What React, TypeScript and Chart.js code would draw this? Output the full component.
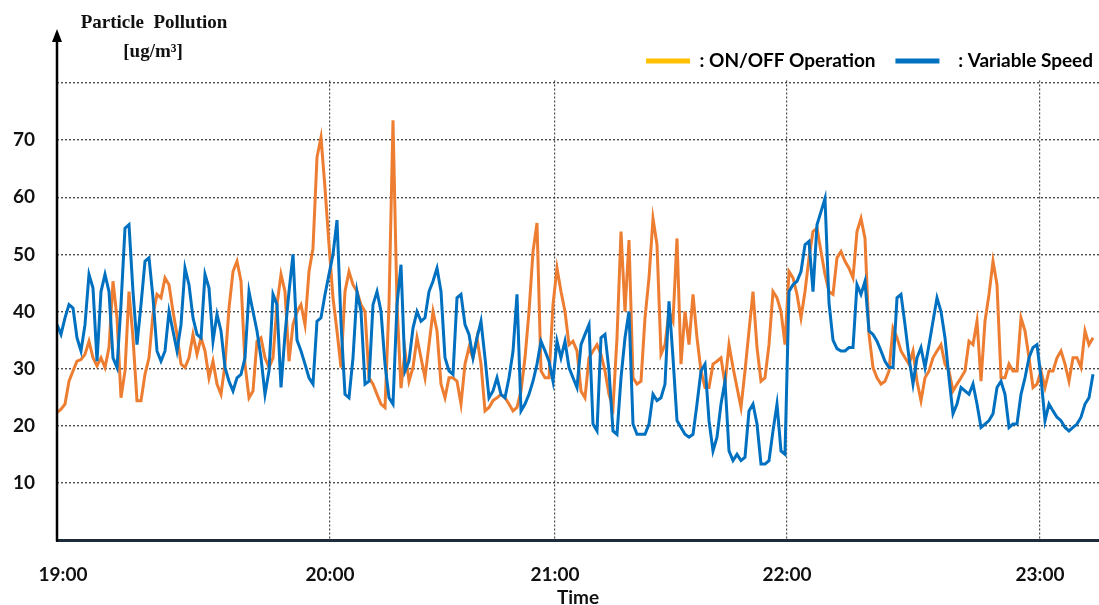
import { useEffect, useRef } from 'react';
import { Chart, registerables } from 'chart.js';

Chart.register(...registerables);

// Time axis: samples are evenly spaced; hour marks fall at these sample positions
const HOUR_LABELS = ['19:00', '20:00', '21:00', '22:00', '23:00'];
const HOUR_INDEX = [1.5, 68.25, 124.5, 182.5, 245.75];

const Y_TICKS = [0, 10, 20, 30, 40, 50, 60, 70, 80];

const SERIES_NAMES = [': ON/OFF Operation   ', '  : Variable Speed'];

// Particle pollution [ug/m3], ON/OFF operation
const ON_OFF = [
  22.3, 22.9, 23.8, 27.8, 29.6, 31.3, 31.6, 32.5, 34.8, 31.9,
  30.5, 31.9, 30.2, 33.7, 45.3, 38.9, 24.9, 29.6, 43.5, 35.4,
  24.4, 24.4, 29.0, 31.9, 39.5, 43.0, 42.4, 45.9, 44.7, 40.0,
  36.0, 30.8, 30.2, 31.9, 36.0, 32.5, 35.4, 33.1, 28.4, 31.3,
  27.3, 25.5, 30.8, 40.6, 47.0, 48.8, 45.3, 30.8, 24.9, 26.1,
  34.8, 35.4, 31.9, 30.2, 31.9, 41.2, 46.5, 43.5, 31.3, 37.7,
  40.0, 41.2, 37.7, 47.0, 51.1, 67.0, 70.5, 61.6, 51.7, 42.4,
  36.6, 30.2, 43.5, 47.0, 44.7, 43.5, 41.2, 40.0, 28.4, 27.3,
  25.5, 23.8, 23.2, 41.2, 73.5, 41.2, 26.6, 33.1, 27.8, 30.2,
  35.4, 31.9, 28.4, 34.2, 40.0, 36.6, 27.3, 24.9, 28.4, 28.4,
  27.8, 23.8, 30.8, 33.7, 31.9, 35.4, 30.8, 22.6, 23.2, 24.4,
  24.9, 25.5, 24.9, 23.8, 22.6, 23.2, 26.1, 31.9, 40.0, 50.5,
  55.5, 29.6, 28.4, 28.4, 41.2, 47.6, 43.5, 40.0, 34.2, 34.8,
  33.1, 26.1, 24.9, 31.9, 33.1, 34.2, 32.5, 29.6, 25.5, 23.2,
  35.4, 54.0, 40.0, 52.5, 28.4, 27.3, 27.8, 38.9, 45.9, 56.3,
  51.7, 32.5, 34.2, 40.0, 38.3, 52.8, 30.8, 40.0, 34.2, 43.0,
  35.4, 29.6, 26.7, 26.7, 30.8, 31.3, 31.9, 27.3, 34.2, 30.2,
  26.7, 23.2, 29.6, 36.6, 43.5, 33.7, 27.8, 28.4, 34.2, 43.5,
  42.4, 40.0, 34.2, 47.0, 45.9, 43.0, 38.9, 43.5, 49.4, 54.0,
  54.6, 50.5, 46.5, 43.5, 43.0, 49.4, 50.5, 48.8, 47.6, 45.9,
  54.0, 56.3, 52.8, 36.0, 30.2, 28.4, 27.3, 27.8, 29.6, 37.1,
  35.4, 33.1, 31.9, 30.8, 33.1, 27.8, 24.4, 28.4, 29.6, 31.9,
  33.1, 34.2, 30.8, 29.6, 26.1, 27.3, 28.4, 29.6, 34.8, 34.2,
  38.3, 27.8, 38.3, 43.0, 48.8, 44.7, 28.4, 28.4, 30.8, 29.6,
  29.6, 38.9, 36.6, 31.9, 26.7, 27.3, 29.6, 26.7, 29.6, 29.6,
  31.9, 33.1, 30.8, 27.8, 31.9, 31.9, 30.2, 36.6, 34.2, 35.4,
];

// Particle pollution [ug/m3], variable speed
const VARIABLE = [
  37.7, 36.0, 38.9, 41.2, 40.6, 35.4, 33.1, 37.7, 46.5, 44.1,
  31.3, 43.5, 46.5, 43.5, 31.9, 30.2, 41.2, 54.6, 55.2, 43.5,
  34.2, 41.2, 48.8, 49.4, 42.4, 33.1, 31.3, 33.1, 40.0, 36.6,
  33.1, 37.7, 47.6, 44.7, 38.9, 36.0, 35.4, 46.5, 44.1, 34.8,
  39.5, 36.6, 30.2, 27.8, 26.1, 28.4, 29.0, 31.9, 43.5, 40.0,
  36.6, 31.9, 25.5, 29.6, 43.0, 41.2, 26.7, 36.0, 43.5, 50.0,
  35.0, 33.1, 30.8, 28.4, 27.3, 38.3, 38.9, 43.0, 46.5, 50.0,
  56.0, 38.0, 25.5, 24.9, 31.9, 43.5, 40.0, 27.3, 27.8, 41.2,
  43.5, 40.0, 30.8, 24.9, 23.8, 41.2, 48.2, 29.6, 31.3, 37.1,
  40.0, 38.3, 38.9, 43.5, 45.3, 47.6, 43.5, 31.9, 29.6, 29.0,
  42.4, 43.0, 37.7, 36.0, 31.9, 35.4, 38.3, 31.9, 24.9, 26.1,
  28.4, 25.5, 24.9, 28.4, 33.0, 43.0, 22.6, 23.8, 25.5, 27.8,
  30.8, 34.8, 33.1, 31.3, 27.8, 34.8, 31.9, 34.8, 30.2, 28.4,
  26.7, 34.2, 36.0, 37.7, 20.3, 19.1, 35.4, 36.0, 29.6, 19.1,
  18.5, 28.4, 35.4, 40.0, 20.3, 18.5, 18.5, 18.5, 20.3, 25.5,
  24.4, 24.9, 27.3, 41.8, 31.9, 20.9, 19.7, 18.5, 18.0, 18.5,
  23.8, 29.6, 30.8, 20.9, 15.6, 18.0, 23.8, 27.8, 15.6, 13.9,
  15.0, 13.9, 14.5, 22.6, 23.8, 20.3, 13.3, 13.3, 13.9, 19.1,
  23.8, 15.6, 15.0, 43.5, 44.7, 45.3, 47.0, 51.7, 52.3, 43.5,
  55.2, 57.5, 59.8, 41.5, 35.0, 33.5, 33.1, 33.1, 33.7, 33.7,
  44.7, 43.0, 45.3, 36.6, 36.0, 34.8, 33.1, 31.3, 30.2, 30.2,
  42.4, 43.0, 37.7, 31.9, 27.3, 31.9, 33.7, 30.2, 34.2, 38.3,
  42.4, 40.0, 35.4, 28.4, 22.1, 23.8, 26.7, 26.1, 25.5, 27.3,
  23.8, 19.7, 20.3, 20.9, 22.1, 26.7, 27.8, 25.5, 19.7, 20.3,
  20.3, 25.5, 28.4, 31.9, 33.7, 34.2, 28.4, 20.9, 23.8, 22.6,
  21.5, 20.9, 19.7, 19.1, 19.7, 20.3, 21.5, 23.8, 24.9, 29.0,
];

const ORANGE = '#ED7D31';
const LEGEND_ORANGE = '#FFC000';
const BLUE = '#0070C0';
const GRID = 'rgba(45,45,45,0.85)';
const SANS = 'Lato, "Open Sans", sans-serif';

const decorPlugin = {
  id: 'decor',
  afterDraw(chart: any) {
    const { ctx, chartArea } = chart;
    const x = chartArea.left;
    ctx.save();
    // vertical axis with arrow head
    ctx.strokeStyle = '#000';
    ctx.lineWidth = 2.5;
    ctx.beginPath();
    ctx.moveTo(x, chartArea.bottom + 1.5);
    ctx.lineTo(x, 38);
    ctx.stroke();
    ctx.fillStyle = '#000';
    ctx.beginPath();
    ctx.moveTo(x, 29);
    ctx.lineTo(x - 5, 42);
    ctx.lineTo(x + 5, 42);
    ctx.closePath();
    ctx.fill();
    // axis title
    ctx.fillStyle = '#111';
    ctx.font = 'bold 19px "Liberation Serif", "DejaVu Serif", serif';
    ctx.textAlign = 'center';
    ctx.textBaseline = 'middle';
    ctx.fillText('Particle  Pollution', x + 97, 23);
    ctx.fillText('[ug/m\u00B3]', x + 96, 52);
    ctx.restore();
  },
};

export default function App() {
  const ref = useRef<HTMLCanvasElement>(null);

  useEffect(() => {
    const canvas = ref.current;
    if (!canvas) return;
    const toXY = (arr: number[]) => arr.map((y, i) => ({ x: i, y }));
    const chart = new Chart(canvas, {
      type: 'line',
      data: {
        datasets: [
          {
            label: SERIES_NAMES[0],
            data: toXY(ON_OFF),
            borderColor: ORANGE,
            backgroundColor: ORANGE,
            borderWidth: 3,
            pointRadius: 0,
            tension: 0,
            order: 1,
          },
          {
            label: SERIES_NAMES[1],
            data: toXY(VARIABLE),
            borderColor: BLUE,
            backgroundColor: BLUE,
            borderWidth: 3,
            pointRadius: 0,
            tension: 0,
            order: 0,
          },
        ],
      },
      options: {
        responsive: false,
        animation: false,
        devicePixelRatio: 1,
        layout: { padding: { top: 45.5, left: 0, right: 0, bottom: 0 } },
        plugins: {
          tooltip: { enabled: false },
          legend: {
            display: true,
            position: 'top',
            align: 'end',
            labels: {
              boxWidth: 44,
              boxHeight: 5,
              padding: 6,
              color: '#111',
              font: { family: SANS, size: 19, weight: 'bold' },
              generateLabels: () => [
                { text: SERIES_NAMES[0], fillStyle: LEGEND_ORANGE, strokeStyle: LEGEND_ORANGE, lineWidth: 0, hidden: false, datasetIndex: 0 },
                { text: SERIES_NAMES[1], fillStyle: BLUE, strokeStyle: BLUE, lineWidth: 0, hidden: false, datasetIndex: 1 },
              ],
            },
          },
        },
        scales: {
          x: {
            type: 'linear',
            min: 0,
            max: 260.5,
            afterBuildTicks: (s: any) => {
              s.ticks = HOUR_INDEX.map((v) => ({ value: v }));
            },
            afterFit: (s: any) => {
              s.height = 65;
            },
            ticks: {
              autoSkip: false,
              maxRotation: 0,
              padding: 23,
              color: '#111',
              font: { family: SANS, size: 19, weight: 'bold' },
              callback: (_v: any, i: number) => HOUR_LABELS[i],
            },
            grid: {
              drawTicks: false,
              lineWidth: 1.2,
              color: (c: any) => (c.index === 0 ? 'rgba(0,0,0,0)' : GRID),
            },
            border: { display: true, color: '#1e2b3a', width: 3, dash: [2, 2] },
            title: {
              display: true,
              text: 'Time',
              color: '#111',
              font: { family: SANS, size: 19, weight: 'bold', lineHeight: 1 },
              padding: { top: 0, bottom: -2 },
            },
          },
          y: {
            min: 0,
            max: 80.45,
            afterBuildTicks: (s: any) => {
              s.ticks = Y_TICKS.map((v) => ({ value: v }));
            },
            afterFit: (s: any) => {
              s.width = 57;
            },
            ticks: {
              padding: 22,
              color: '#111',
              font: { family: SANS, size: 19, weight: 'bold' },
              callback: (v: any) => (v === 0 || v === 80 ? '' : String(v)),
            },
            grid: {
              drawTicks: false,
              lineWidth: 1.4,
              color: (c: any) => (c.tick && c.tick.value === 0 ? 'rgba(0,0,0,0)' : GRID),
            },
            border: { display: false, dash: [2, 2] },
          },
        },
      },
      plugins: [decorPlugin],
    } as any);
    return () => chart.destroy();
  }, []);

  return (
    <div style={{ position: 'absolute', left: 0, top: 0, width: 1099, height: 605, background: '#fff' }}>
      <canvas ref={ref} width={1099} height={605} style={{ display: 'block' }} />
    </div>
  );
}
